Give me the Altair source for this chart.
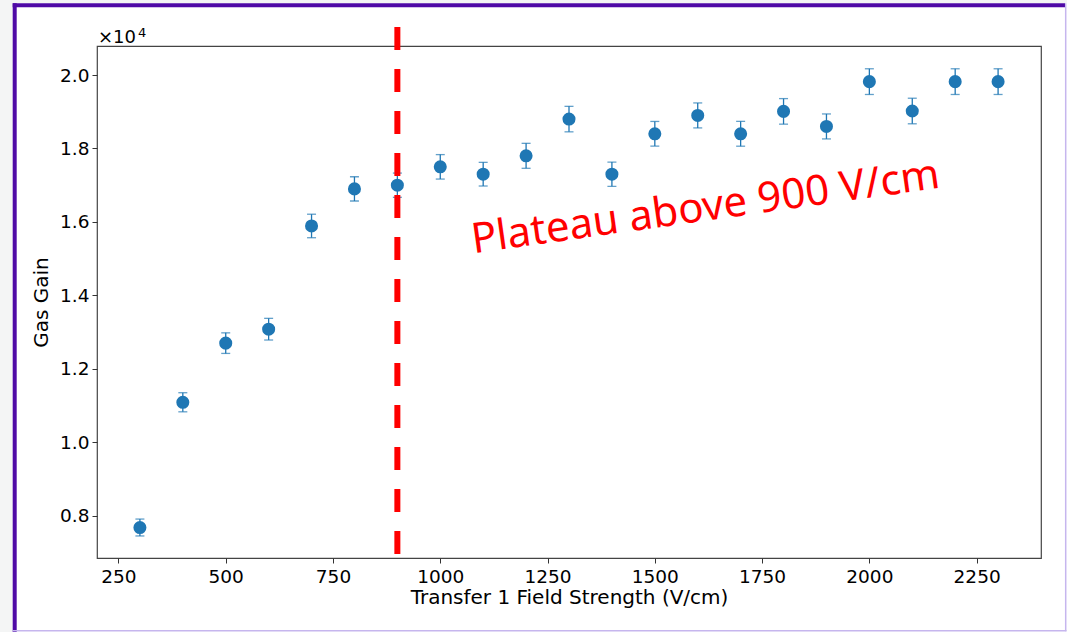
import altair as alt
import pandas as pd

# Transfer 1 field scan: gas gain with measurement uncertainty
field = [300, 400, 500, 600, 700, 800, 900, 1000, 1100, 1200, 1300,
         1400, 1500, 1600, 1700, 1800, 1900, 2000, 2100, 2200, 2300]
gain = [7680, 11090, 12700, 13080, 15890, 16900, 17000, 17500, 17300, 17800, 18800,
        17300, 18400, 18900, 18400, 19010, 18600, 19820, 19020, 19820, 19820]
gain_err = [230, 260, 280, 295, 320, 330, 330, 333, 322, 340, 347,
            330, 336, 340, 338, 348, 340, 350, 348, 350, 350]

x_ticks = [250, 500, 750, 1000, 1250, 1500, 1750, 2000, 2250]
y_ticks = [8000, 10000, 12000, 14000, 16000, 18000, 20000]
x_domain = [200, 2400]
y_domain = [6850, 20790]

# dashed marker line at the plateau onset, running a little past the axes
cut_field = [900]
cut_from = [6960]
cut_to = [21340]

note_text = ["Plateau above 900 V/cm"]
note_field = [1618]
note_gain = [16390]

# axis multiplier shown above the y axis: base and exponent
mult_base = ["×10"]
mult_exp = ["4"]

BLUE = "#1f77b4"
W, H = 944, 512

df = pd.DataFrame({"field": field, "gain": gain, "err": gain_err})

xs = alt.Scale(domain=x_domain, nice=False, zero=False)
ys = alt.Scale(domain=y_domain, nice=False, zero=False)

x_axis = alt.Axis(values=x_ticks, format="d", title="Transfer 1 Field Strength (V/cm)",
                  grid=False, domain=False, tickSize=5, tickColor="#333333",
                  labelPadding=4, titlePadding=2)
y_axis = alt.Axis(values=y_ticks, labelExpr="format(datum.value / 10000, '.1f')",
                  title="Gas Gain", grid=False, domain=False, tickSize=5,
                  tickColor="#333333", labelPadding=3, titlePadding=8)

base = alt.Chart(df).transform_calculate(
    lo="datum.gain - datum.err", hi="datum.gain + datum.err"
)

bars = base.mark_rule(color=BLUE, strokeWidth=1.3).encode(
    x=alt.X("field:Q", scale=xs, axis=x_axis),
    y=alt.Y("lo:Q", scale=ys, axis=y_axis),
    y2="hi:Q",
)
caps_lo = base.mark_tick(color=BLUE, orient="horizontal", size=9, thickness=1.3).encode(
    x=alt.X("field:Q", scale=xs), y=alt.Y("lo:Q", scale=ys)
)
caps_hi = base.mark_tick(color=BLUE, orient="horizontal", size=9, thickness=1.3).encode(
    x=alt.X("field:Q", scale=xs), y=alt.Y("hi:Q", scale=ys)
)
points = base.mark_circle(color=BLUE, size=170, opacity=1).encode(
    x=alt.X("field:Q", scale=xs), y=alt.Y("gain:Q", scale=ys)
)

cut = alt.Chart(pd.DataFrame({"f": cut_field, "a": cut_from, "b": cut_to})).mark_rule(
    color="#ff0000", strokeWidth=6, strokeDash=[23, 19], clip=False
).encode(x=alt.X("f:Q", scale=xs), y=alt.Y("a:Q", scale=ys), y2="b:Q")

note = alt.Chart(pd.DataFrame({"t": note_text, "f": note_field, "g": note_gain})).mark_text(
    color="#ff0000", font="Noto Sans", fontSize=42, angle=352,
    align="center", baseline="middle", clip=False
).encode(x=alt.X("f:Q", scale=xs), y=alt.Y("g:Q", scale=ys), text="t:N")

# axis offset label above the top-left corner of the axes
mult_main = alt.Chart(pd.DataFrame({"t": mult_base})).mark_text(
    font="DejaVu Sans", fontSize=18, color="#000000", align="left",
    baseline="alphabetic", clip=False
).encode(x=alt.value(1), y=alt.value(-3), text="t:N")
mult_sup = alt.Chart(pd.DataFrame({"t": mult_exp})).mark_text(
    font="DejaVu Sans", fontSize=13, color="#000000", align="left",
    baseline="alphabetic", clip=False
).encode(x=alt.value(41), y=alt.value(-9), text="t:N")

# page frame around the figure
one = pd.DataFrame({"k": [0]})
GREY = "#f4f5f5"
DARK = "#4f0aa6"
LIGHT = "#c6b6ee"
frame = [
    alt.Chart(one).mark_rect(color=GREY, clip=False).encode(
        x=alt.value(-97), x2=alt.value(-84), y=alt.value(-46), y2=alt.value(586)),
    alt.Chart(one).mark_rect(color=GREY, clip=False).encode(
        x=alt.value(-97), x2=alt.value(970), y=alt.value(-46), y2=alt.value(-42.7)),
    alt.Chart(one).mark_rule(color=DARK, strokeWidth=4, clip=False).encode(
        x=alt.value(-82.3), y=alt.value(-42.7), y2=alt.value(586)),
    alt.Chart(one).mark_rule(color=DARK, strokeWidth=4, clip=False).encode(
        x=alt.value(-84.3), x2=alt.value(968), y=alt.value(-40.7)),
    alt.Chart(one).mark_rule(color=LIGHT, strokeWidth=1.5, clip=False).encode(
        x=alt.value(968.7), y=alt.value(-42.7), y2=alt.value(585.3)),
    alt.Chart(one).mark_rule(color=LIGHT, strokeWidth=1.5, clip=False).encode(
        x=alt.value(-84.3), x2=alt.value(969.5), y=alt.value(584.7)),
]

chart = alt.layer(
    *frame, bars, caps_lo, caps_hi, points, cut, note, mult_main, mult_sup
).properties(
    width=W, height=H,
    autosize=alt.AutoSizeParams(type="none"),
    padding={"left": 97, "top": 46, "right": 26, "bottom": 74},
    background="#ffffff",
).configure_view(
    stroke="#444444", strokeWidth=1.2, fill="#ffffff"
).configure_axis(
    labelFont="DejaVu Sans", titleFont="DejaVu Sans", labelFontSize=18.5,
    titleFontSize=20, titleFontWeight="normal", labelColor="#000000", titleColor="#000000"
)

chart.save("out.html", embed_options={"renderer": "svg", "actions": False})
